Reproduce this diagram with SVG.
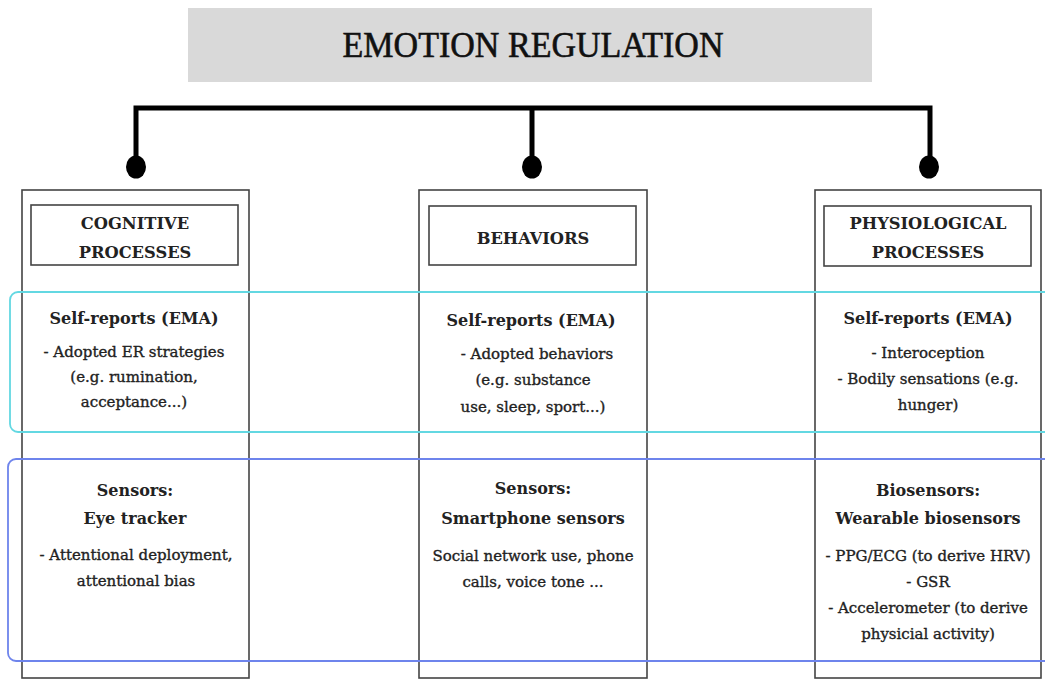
<svg xmlns="http://www.w3.org/2000/svg" width="1045" height="679" viewBox="0 0 1045 679">
<style>
.col{fill:#fff;stroke:#444;stroke-width:1.6}
.hdr{fill:#fff;stroke:#444;stroke-width:1.6}
.t{font-family:"DejaVu Serif","Liberation Serif",serif;text-anchor:middle;fill:#222}
.h{font-size:16.3px;font-weight:bold}
.b{font-size:16px;font-weight:bold}
.s{font-size:15px;stroke:#222;stroke-width:0.35}
.conn{stroke:#000;stroke-width:5;fill:none}
</style>
<rect width="1045" height="679" fill="#fff"/>
<g id="title">
<rect x="188" y="8" width="684" height="74" fill="#d9d9d9"/>
<text x="533" y="57" font-family="Liberation Serif,serif" font-size="36" text-anchor="middle" fill="#111" stroke="#111" stroke-width="0.6" textLength="381" lengthAdjust="spacingAndGlyphs">EMOTION REGULATION</text>
</g>
<g id="connectors">
<path class="conn" d="M136 160 V108 H930 V160 M532 108 V160"/>
<ellipse cx="136" cy="167" rx="10" ry="11.5"/>
<ellipse cx="532" cy="167" rx="10" ry="11.5"/>
<ellipse cx="929" cy="167" rx="10" ry="11.5"/>
</g>
<g id="cognitive">
<rect class="col" x="22" y="190" width="227" height="488"/>
<rect class="hdr" x="31" y="205" width="207" height="60"/>
<text class="t h" x="135" y="229">COGNITIVE</text>
<text class="t h" x="135" y="258">PROCESSES</text>
<text class="t b" x="134" y="324">Self-reports (EMA)</text>
<text class="t s" x="134" y="357">- Adopted ER strategies</text>
<text class="t s" x="134" y="382">(e.g. rumination,</text>
<text class="t s" x="134" y="407">acceptance...)</text>
<text class="t b" x="135" y="496">Sensors:</text>
<text class="t b" x="135" y="524">Eye tracker</text>
<text class="t s" x="136" y="560">- Attentional deployment,</text>
<text class="t s" x="136" y="586">attentional bias</text>
</g>
<g id="behaviors">
<rect class="col" x="419" y="190" width="228" height="488"/>
<rect class="hdr" x="429" y="206" width="207" height="59"/>
<text class="t h" x="533" y="244">BEHAVIORS</text>
<text class="t b" x="531" y="326">Self-reports (EMA)</text>
<text class="t s" x="537" y="359">- Adopted behaviors</text>
<text class="t s" x="533" y="385">(e.g. substance</text>
<text class="t s" x="533" y="412">use, sleep, sport...)</text>
<text class="t b" x="533" y="494">Sensors:</text>
<text class="t b" x="533" y="524">Smartphone sensors</text>
<text class="t s" x="533" y="561">Social network use, phone</text>
<text class="t s" x="533" y="587">calls, voice tone ...</text>
</g>
<g id="physiological">
<rect class="col" x="815" y="190" width="226" height="488"/>
<rect class="hdr" x="824" y="206" width="207" height="60"/>
<text class="t h" x="928" y="229">PHYSIOLOGICAL</text>
<text class="t h" x="928" y="258">PROCESSES</text>
<text class="t b" x="928" y="324">Self-reports (EMA)</text>
<text class="t s" x="928" y="358">- Interoception</text>
<text class="t s" x="928" y="384">- Bodily sensations (e.g.</text>
<text class="t s" x="928" y="410">hunger)</text>
<text class="t b" x="928" y="496">Biosensors:</text>
<text class="t b" x="928" y="524">Wearable biosensors</text>
<text class="t s" x="928" y="561">- PPG/ECG (to derive HRV)</text>
<text class="t s" x="928" y="587">- GSR</text>
<text class="t s" x="928" y="613">- Accelerometer (to derive</text>
<text class="t s" x="928" y="639">physicial activity)</text>
</g>
<g id="bands">
<rect x="10" y="292" width="1050" height="140" rx="8" fill="none" stroke="#63d8e2" stroke-width="1.8"/>
<rect x="8" y="459" width="1052" height="202" rx="8" fill="none" stroke="#6e84ec" stroke-width="1.8"/>
</g>
</svg>
